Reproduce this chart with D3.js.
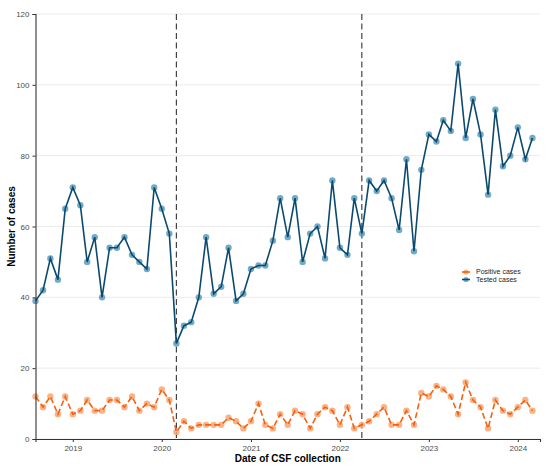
<html>
<head>
<meta charset="utf-8">
<script src="https://d3js.org/d3.v7.min.js"></script>
<style>
body { margin: 0; background: white; }
text { font-family: "Liberation Sans", Arial, sans-serif; }
</style>
</head>
<body>
<svg id="chart" width="550" height="467"></svg>
<script>
// monthly values, Aug 2018 .. Mar 2024
var startMonth = "2018-08";
var tested = [39,42,51,45,65,71,66,50,57,40,54,54,57,52,50,48,71,65,58,27,
              32,33,40,57,41,43,54,39,41,48,49,49,56,68,57,68,50,58,60,51,
              73,54,52,68,58,73,70,73,68,59,79,53,76,86,84,90,87,106,85,96,
              86,69,93,77,80,88,79,85];
var positive = [12,9,12,7,12,7,8,11,8,8,11,11,9,12,8,10,9,14,11,2,
                5,3,4,4,4,4,6,5,3,5,10,4,3,7,4,8,7,3,7,9,
                8,4,9,3,4,5,7,9,4,4,8,4,13,12,15,14,12,7,16,11,
                9,3,11,8,7,9,11,8];
var cutDates = ["2020-03-01", "2022-04-01"];
var yTicks = [0,20,40,60,80,100,120];
var xTickYears = [2019,2020,2021,2022,2023,2024];
var seriesNames = ["Positive cases", "Tested cases"];

var parse = d3.timeParse("%Y-%m-%d");
var t0 = d3.timeParse("%Y-%m")(startMonth);
var dates = tested.map(function(d,i){ return d3.timeMonth.offset(t0, i); });

var pLeft = 35.5, pRight = 540, pTop = 14, pBottom = 439;

var x = d3.scaleTime()
  .domain([t0, d3.timeMonth.offset(t0, tested.length)])
  .range([pLeft, pRight]);
var y = d3.scaleLinear().domain([0,120]).range([pBottom, pTop]);

var svg = d3.select("#chart");

// horizontal grid
svg.append("g").selectAll("line")
  .data(yTicks).enter().append("line")
  .attr("x1", pLeft).attr("x2", pRight)
  .attr("y1", function(d){ return y(d); })
  .attr("y2", function(d){ return y(d); })
  .attr("stroke", "#ebebeb").attr("stroke-width", 1);

// dashed markers
svg.append("g").selectAll("line")
  .data(cutDates).enter().append("line")
  .attr("x1", function(d){ return x(parse(d)); })
  .attr("x2", function(d){ return x(parse(d)); })
  .attr("y1", pTop).attr("y2", pBottom)
  .attr("stroke", "#333").attr("stroke-width", 1.1)
  .attr("stroke-dasharray", "6,3.5");

var colTested = "#0b4a6f", ptTested = "#5b9cbd";
var colPos = "#f4600d", ptPos = "#f9a472";

function drawSeries(vals, lineCol, ptCol, dash) {
  var g = svg.append("g");
  g.selectAll("circle")
    .data(vals).enter().append("circle")
    .attr("cx", function(d,i){ return x(dates[i]); })
    .attr("cy", function(d){ return y(d); })
    .attr("r", 3.2)
    .attr("fill", ptCol).attr("opacity", 0.85);
  var line = d3.line()
    .x(function(d,i){ return x(dates[i]); })
    .y(function(d){ return y(d); });
  g.append("path")
    .attr("d", line(vals))
    .attr("fill", "none")
    .attr("stroke", lineCol)
    .attr("stroke-width", 1.6)
    .attr("stroke-dasharray", dash);
}
drawSeries(tested, colTested, ptTested, null);
drawSeries(positive, colPos, ptPos, "6,3");

// axes
var yAxis = svg.append("g")
  .attr("transform", "translate(" + pLeft + ",0)")
  .call(d3.axisLeft(y).tickValues(yTicks).tickSize(3).tickPadding(3));
var xAxis = svg.append("g")
  .attr("transform", "translate(0," + pBottom + ")")
  .call(d3.axisBottom(x)
    .tickValues(xTickYears.map(function(yr){ return new Date(yr,0,1); }))
    .tickFormat(d3.timeFormat("%Y"))
    .tickSize(3).tickPadding(3));

[xAxis, yAxis].forEach(function(a){
  a.select(".domain").attr("stroke", "#333").attr("stroke-width", 1.1);
  a.selectAll(".tick line").attr("stroke", "#333");
  a.selectAll("text").attr("fill", "#4d4d4d").attr("font-size", "8px")
    .style("font-family", "Liberation Sans, Arial, sans-serif");
});

// axis titles
svg.append("text")
  .attr("x", (pLeft + pRight) / 2).attr("y", 462)
  .attr("text-anchor", "middle")
  .attr("font-size", "10px").attr("font-weight", "bold")
  .text("Date of CSF collection");
svg.append("text")
  .attr("transform", "translate(15," + (pTop + pBottom) / 2 + ") rotate(-90)")
  .attr("text-anchor", "middle")
  .attr("font-size", "10px").attr("font-weight", "bold")
  .text("Number of cases");

// legend
var legend = svg.append("g").attr("transform", "translate(462,272)");
var legCols = [[colPos, ptPos], [colTested, ptTested]];
seriesNames.forEach(function(name, i){
  var gy = i * 7.5;
  legend.append("circle").attr("cx", 4).attr("cy", gy).attr("r", 2.6)
    .attr("fill", legCols[i][1]).attr("opacity", 0.85);
  legend.append("line").attr("x1", 0).attr("x2", 8).attr("y1", gy).attr("y2", gy)
    .attr("stroke", legCols[i][0]).attr("stroke-width", 1.6);
  legend.append("text").attr("x", 14).attr("y", gy + 2.4)
    .attr("font-size", "7px").attr("fill", "#222").text(name);
});
</script>
</body>
</html>
